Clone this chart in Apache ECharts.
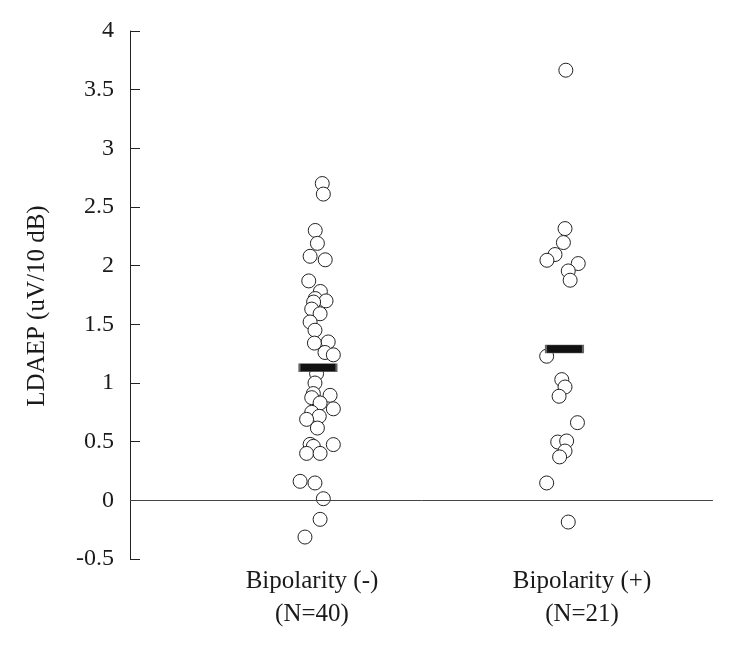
<!DOCTYPE html>
<html>
<head>
<meta charset="utf-8">
<script src="https://cdn.jsdelivr.net/npm/echarts@6/dist/echarts.min.js"></script>
<style>
  html, body { margin: 0; padding: 0; background: #fff; }
  #chart { width: 742px; height: 649px; }
</style>
</head>
<body>
<div id="chart"></div>
<script>
// groups on the x axis (placed at 1 and 2)
const categories = ['Bipolarity (-)', 'Bipolarity (+)']
const groupN = [40, 21]

// LDAEP values
const negValues = [2.70, 2.61, 2.30, 2.19, 2.08, 2.05, 1.87, 1.78, 1.72, 1.70, 1.69, 1.63, 1.59, 1.52, 1.45, 1.34, 1.35, 1.26, 1.24,
  1.08, 1.00, 0.91, 0.895, 0.875, 0.83, 0.78, 0.75, 0.716, 0.69, 0.616, 0.477, 0.46, 0.475, 0.40, 0.40, 0.162, 0.148, 0.014, -0.162, -0.313]
// horizontal jitter of each point (category units)
const negJitter = [0.038, 0.042, 0.012, 0.020, -0.007, 0.049, -0.012, 0.031, 0.012, 0.052, 0.006, -0.001, 0.030, -0.007, 0.011, 0.009, 0.060, 0.048, 0.079,
  0.017, 0.011, 0.005, 0.067, -0.001, 0.030, 0.079, -0.001, 0.027, -0.020, 0.020, -0.007, 0.005, 0.079, -0.020, 0.030, -0.044, 0.011, 0.042, 0.030, -0.026]

const posValues = [3.666, 2.316, 2.197, 2.095, 2.046, 2.018, 1.955, 1.876, 1.228, 1.029, 0.966, 0.887, 0.662, 0.497, 0.506, 0.42, 0.37, 0.148, -0.185]
const posJitter = [-0.060, -0.063, -0.069, -0.100, -0.130, -0.014, -0.051, -0.044, -0.131, -0.075, -0.063, -0.085, -0.017, -0.090, -0.057, -0.063, -0.083, -0.131, -0.051]

// group means (bars) and their offsets
const means = [1.13, 1.29]
const meanJitter = [0.022, -0.065]

const yTicks = { min: -0.5, max: 4, interval: 0.5 }

const font = 'Liberation Serif'
const toPoints = (values, jitter, g) => values.map((v, i) => [g + jitter[i], v])

const chart = echarts.init(document.getElementById('chart'))
chart.setOption({
  animation: false,
  textStyle: { fontFamily: font },
  grid: { left: 130, right: 29, top: 31, bottom: 90 },
  xAxis: {
    type: 'value',
    min: 0.326,
    max: 2.485,
    axisLine: { show: false, onZero: false },
    axisTick: { show: false },
    splitLine: { show: false },
    axisLabel: {
      customValues: [1, 2],
      margin: 6,
      color: '#1a1a1a',
      fontFamily: font,
      fontSize: 25,
      lineHeight: 33,
      formatter: v => categories[Math.round(v) - 1] + '\n(N=' + groupN[Math.round(v) - 1] + ')'
    }
  },
  yAxis: {
    type: 'value',
    min: yTicks.min,
    max: yTicks.max,
    interval: yTicks.interval,
    name: 'LDAEP (uV/10 dB)',
    nameLocation: 'middle',
    nameRotate: 90,
    nameGap: 80,
    nameTextStyle: { color: '#1a1a1a', fontFamily: font, fontSize: 25, padding: [0, 22, 0, 0] },
    axisLine: { show: true, lineStyle: { color: '#222', width: 1 } },
    axisTick: { show: true, inside: true, length: 10, lineStyle: { color: '#222' } },
    splitLine: { show: false },
    axisLabel: { margin: 16, color: '#1a1a1a', fontFamily: font, fontSize: 24 }
  },
  series: [{
    type: 'scatter',
    data: toPoints(negValues, negJitter, 1),
    symbol: 'circle',
    symbolSize: 14,
    itemStyle: { color: '#fff', borderColor: '#222', borderWidth: 1, opacity: 1 },
    markLine: {
      silent: true,
      symbol: 'none',
      label: { show: false },
      lineStyle: { color: '#444', width: 1, type: 'solid' },
      data: [{ yAxis: 0 }]
    }
  }, {
    type: 'scatter',
    data: toPoints(posValues, posJitter, 2),
    symbol: 'circle',
    symbolSize: 14,
    itemStyle: { color: '#fff', borderColor: '#222', borderWidth: 1, opacity: 1 }
  }, {
    type: 'scatter',
    z: 3,
    data: means.map((m, i) => [i + 1 + meanJitter[i], m]),
    symbol: 'rect',
    symbolSize: [37, 8],
    itemStyle: { color: '#111', borderColor: '#666', borderWidth: 1, opacity: 1 }
  }]
})
</script>
</body>
</html>
